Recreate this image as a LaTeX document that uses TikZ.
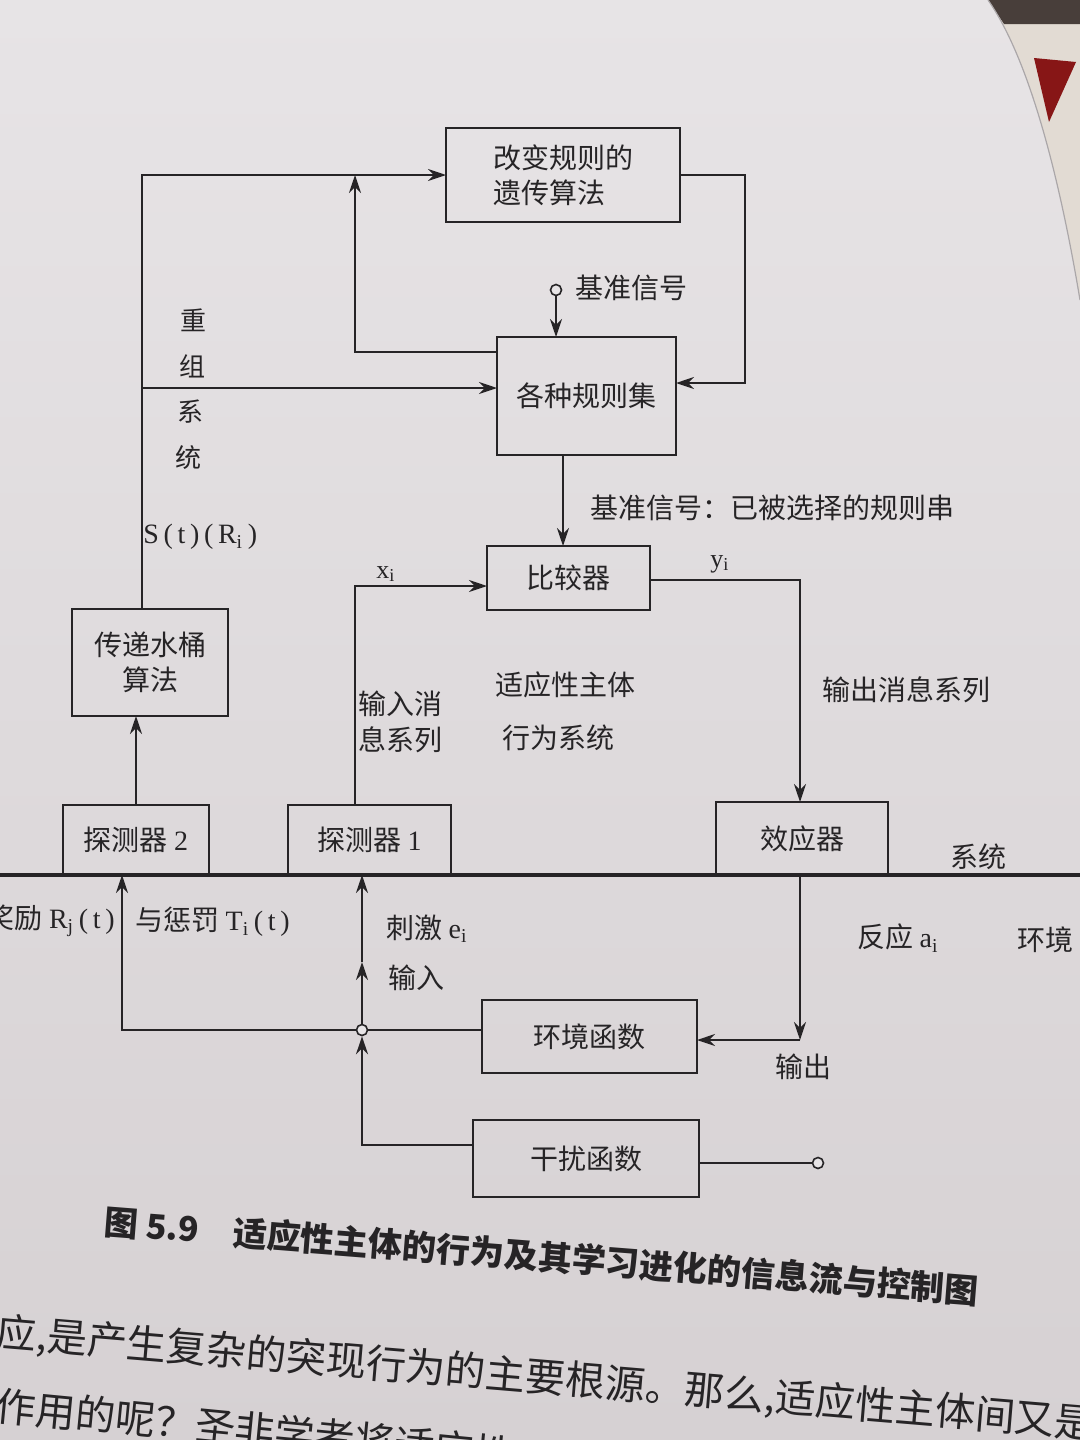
\documentclass[tikz,border=0pt]{standalone}
\usepackage{fontspec}
\setmainfont{Liberation Serif}
\newfontfamily\cjk{Noto Sans CJK SC}
\usetikzlibrary{arrows.meta}
\definecolor{papertop}{RGB}{231,228,230}
\definecolor{paperlow}{RGB}{214,209,211}
\definecolor{backpage}{RGB}{226,219,211}
\definecolor{darktop}{RGB}{72,62,58}
\definecolor{redbit}{RGB}{135,22,22}
\definecolor{ink}{RGB}{38,36,38}
\newcommand\boxfont{\cjk\fontsize{14}{17.5}\selectfont}
\newcommand\lblfont{\cjk\fontsize{14}{18}\selectfont}
\newcommand\smlfont{\cjk\fontsize{13}{16}\selectfont}
\newcommand\capfont{\cjk\bfseries\fontsize{17}{20}\selectfont}
\newcommand\bodyfont{\cjk\fontsize{20}{24}\selectfont}
\begin{document}
\begin{tikzpicture}[x=0.5pt,y=-0.5pt,
  box/.style={draw=ink, line width=1pt, inner sep=0pt, outer sep=0pt, align=center, font=\boxfont, text=ink},
  lbl/.style={inner sep=0pt, text=ink, font=\lblfont, align=left},
  ln/.style={draw=ink, line width=1pt},
  arr/.style={draw=ink, line width=1pt, -{Stealth[length=9pt,width=6pt]}},
  dot/.style={circle, draw=ink, line width=0.8pt, fill=papertop, minimum size=5.5pt, inner sep=0pt}]
\useasboundingbox (0,0) rectangle (1080,1440);
\shade[top color=papertop, bottom color=paperlow] (0,0) rectangle (1080,1440);
% page behind, top right
\fill[backpage] (988,0) .. controls (1030,60) and (1060,180) .. (1080,300) -- (1080,0) -- cycle;
\fill[darktop] (988,0) -- (1080,0) -- (1080,24) -- (1004,24) -- cycle;
\fill[redbit] (1034,58) -- (1076,62) -- (1049,122) -- cycle;
\draw[paperlow!80!black, line width=0.6pt] (988,0) .. controls (1030,60) and (1060,180) .. (1080,300);

% boxes
\node[box, minimum width=117pt, minimum height=47pt, align=left] (ga) at (563,175) {改变规则的\\遗传算法};
\node[box, minimum width=89.5pt, minimum height=59pt] (rs) at (586.5,396) {各种规则集};
\node[box, minimum width=81.5pt, minimum height=32pt] (cmp) at (568.5,578) {比较器};
\node[box, minimum width=78pt, minimum height=53.5pt] (bk) at (150,662.5) {传递水桶\\算法};
\node[box, minimum width=73pt, minimum height=35pt] (d2) at (136,840) {探测器 {\rmfamily 2}};
\node[box, minimum width=81.5pt, minimum height=35pt] (d1) at (369.5,840) {探测器 {\rmfamily 1}};
\node[box, minimum width=86pt, minimum height=36.5pt] (eff) at (802,838.5) {效应器};
\node[box, minimum width=107.5pt, minimum height=36.5pt] (env) at (589.5,1036.5) {环境函数};
\node[box, minimum width=113pt, minimum height=38.5pt] (dist) at (586,1158.5) {干扰函数};

% system / environment boundary
\coordinate (bl) at (0,875);
\coordinate (br) at (1080,875);
\draw[ink, line width=1.6pt] (bl) -- (br);

% coordinates
\coordinate (bkTop) at (142,609);
\coordinate (rloopTop) at (745,175);
\coordinate (rloopIn) at (676,383);
\coordinate (rOut) at (497,352);
\coordinate (upEnd) at (355,175);
\coordinate (recStart) at (142,388);
\coordinate (recIn) at (497,388);
\coordinate (rsBot) at (563,455);
\coordinate (cmpTop) at (563,546);
\coordinate (d1Top) at (355,805);
\coordinate (cmpIn) at (487,586);
\coordinate (cmpOut) at (650,580);
\coordinate (effTop) at (800,802);
\coordinate (d1Bot) at (362,875);
\coordinate (midA) at (362,962);
\coordinate (rwTop) at (122,875);
\coordinate (effBot) at (800,875);
\coordinate (outC) at (800,1040);
\coordinate (distL) at (473,1145);
\node[dot] (J) at (362,1030) {};
\node[dot] (ref) at (556,290) {};
\node[dot] (term) at (818,1163) {};

% upper connectors
\draw[arr] (bkTop) |- (ga.west);
\draw[arr] (ga.east) -- (rloopTop) |- (rloopIn);
\draw[arr] (rOut) -| (upEnd);
\draw[arr] (recStart) -- (recIn);
\draw[arr] (ref) -- (ref |- rs.north);
\draw[arr] (rsBot) -- (cmpTop);
\draw[arr] (d1Top) |- (cmpIn);
\draw[arr] (cmpOut) -| (effTop);
\draw[arr] (d2.north) -- (d2.north |- bk.south);

% lower connectors
\draw[arr] (J) -- (midA);
\draw[arr] (midA) -- (d1Bot);
\draw[arr] (J.west) -| (rwTop);
\draw[ln] (env.west |- J) -- (J);
\draw[arr] (effBot) -- (outC);
\draw[arr] (outC) -- (outC -| env.east);
\draw[arr] (distL) -| (J.south);
\draw[ln] (dist.east |- term) -- (term);

% labels
\node[lbl, anchor=west] (lref) at (575,288) {基准信号};
\node[lbl, font=\smlfont] (lc1) at (193,320) {重};
\node[lbl, font=\smlfont] (lc2) at (192,366) {组};
\node[lbl, font=\smlfont] (lc3) at (190,412) {系};
\node[lbl, font=\smlfont] (lc4) at (188,458) {统};
\node[lbl, anchor=west, font=\rmfamily\fontsize{14}{16}\selectfont] (lst) at (143,537) {S\,(\,t\,)\,(\,R\textsubscript{i}\,)};
\node[lbl, anchor=west] (lsel) at (590,508) {基准信号：已被选择的规则串};
\node[lbl, font=\rmfamily\fontsize{13}{15}\selectfont] (lx) at (386,574) {x\textsubscript{i}};
\node[lbl, font=\rmfamily\fontsize{13}{15}\selectfont] (ly) at (720,564) {y\textsubscript{i}};
\node[lbl, anchor=north west, font=\cjk\fontsize{14}{18}\selectfont] (lin) at (358,690) {输入消\\息系列};
\node[lbl] (lag1) at (565,685) {适应性主体};
\node[lbl] (lag2) at (558,738) {行为系统};
\node[lbl, anchor=west] (lout) at (822,690) {输出消息系列};
\node[lbl] (lsys) at (978,857) {系统};
\node[lbl, anchor=east] (lrw) at (115,921) {奖励 {\rmfamily R\textsubscript{j}\,(\,t\,)}};
\node[lbl, anchor=west] (lpn) at (135,922) {与惩罚 {\rmfamily T\textsubscript{i}\,(\,t\,)}};
\node[lbl, anchor=west] (lst2) at (386,929) {刺激 {\rmfamily e\textsubscript{i}}};
\node[lbl, anchor=west] (linp) at (388,978) {输入};
\node[lbl, anchor=west] (lre) at (857,938) {反应 {\rmfamily a\textsubscript{i}}};
\node[lbl] (lenv) at (1045,940) {环境};
\node[lbl] (loc) at (803,1067) {输出};

% caption and page text
\node[lbl, anchor=west, font=\capfont, rotate=-4.5] (cap) at (104,1222) {图 5.9\hspace{1em}适应性主体的行为及其学习进化的信息流与控制图};
\begin{scope}
\clip (0,0) rectangle (1080,1440);
\node[lbl, anchor=west, font=\bodyfont, rotate=-4.8] (body1) at (-4,1333) {应,是产生复杂的突现行为的主要根源。那么,适应性主体间又是};
\node[lbl, anchor=west, font=\bodyfont, rotate=-5.5] (body2) at (-4,1405) {作用的呢？圣非学者将适应性};
\end{scope}
\end{tikzpicture}
\end{document}
